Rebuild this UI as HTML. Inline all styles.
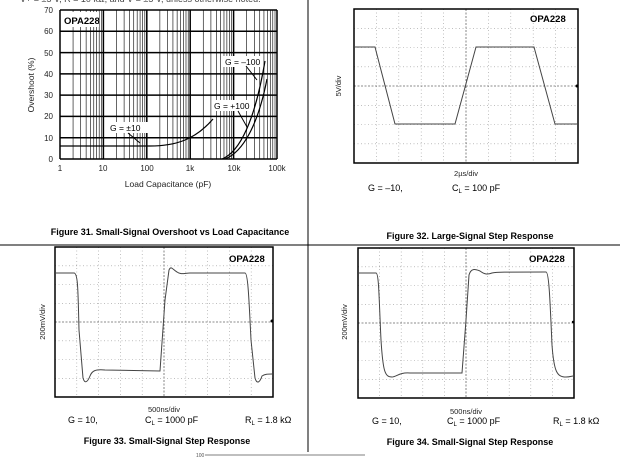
<!DOCTYPE html>
<html><head><meta charset="utf-8"><style>
body{margin:0;background:#fff;width:620px;height:458px;overflow:hidden}
svg{display:block;font-family:"Liberation Sans",Arial,sans-serif}
</style></head><body>
<svg width="620" height="458" viewBox="0 0 620 458" xmlns="http://www.w3.org/2000/svg">
<text x="20" y="2" font-size="9" fill="#444">V+ = ±5 V, R  = 10 kΩ, and V  = ±5 V, unless otherwise noted.</text>
<line x1="308" y1="0" x2="308" y2="452" stroke="#000" stroke-width="1"/>
<line x1="0" y1="245" x2="620" y2="245" stroke="#000" stroke-width="1"/>
<line x1="205" y1="455" x2="365" y2="455" stroke="#555" stroke-width="0.8"/>
<text x="196" y="457" font-size="5" fill="#555">100</text>

<g id="f31">
<rect x="60" y="10" width="217" height="149" fill="#fff"/>
<g stroke="#000" stroke-width="0.6" id="minor"></g>
<g stroke="#000" stroke-width="1.5">
<line x1="60" y1="10" x2="277" y2="10"/><line x1="60" y1="31.3" x2="277" y2="31.3"/>
<line x1="60" y1="52.6" x2="277" y2="52.6"/><line x1="60" y1="73.9" x2="277" y2="73.9"/>
<line x1="60" y1="95.1" x2="277" y2="95.1"/><line x1="60" y1="116.4" x2="277" y2="116.4"/>
<line x1="60" y1="137.7" x2="277" y2="137.7"/><line x1="60" y1="159" x2="277" y2="159"/>
<line x1="60" y1="10" x2="60" y2="159"/><line x1="103.4" y1="10" x2="103.4" y2="159"/>
<line x1="146.8" y1="10" x2="146.8" y2="159"/><line x1="190.2" y1="10" x2="190.2" y2="159"/>
<line x1="233.6" y1="10" x2="233.6" y2="159"/><line x1="277" y1="10" x2="277" y2="159"/>
</g>
<rect x="62" y="12" width="37" height="15" fill="#fff"/>
<text x="64" y="24" font-size="9.5" font-weight="bold">OPA228</text>
<path d="M60 146 L150 146 C175 146 195 140 213 119" fill="none" stroke="#000" stroke-width="1.2"/>
<path d="M222 159 C240 152 255 120 265 61" fill="none" stroke="#000" stroke-width="1.2"/>
<path d="M225 159 C243 152 258 125 267 79" fill="none" stroke="#000" stroke-width="1.2"/>
<rect x="108" y="122" width="40" height="11" fill="#fff"/>
<text x="110" y="131" font-size="8.5">G = ±10</text>
<line x1="128" y1="133" x2="140" y2="143" stroke="#000"/>
<rect x="223" y="56" width="40" height="11" fill="#fff"/>
<text x="225" y="65" font-size="8.5">G = –100</text>
<line x1="246" y1="66" x2="257" y2="80" stroke="#000"/>
<rect x="212" y="100" width="40" height="11" fill="#fff"/>
<text x="214" y="109" font-size="8.5">G = +100</text>
<line x1="238" y1="111" x2="247" y2="127" stroke="#000"/>
<g font-size="8" text-anchor="end" fill="#222">
<text x="53" y="13">70</text><text x="53" y="34">60</text><text x="53" y="56">50</text>
<text x="53" y="77">40</text><text x="53" y="98">30</text><text x="53" y="119">20</text>
<text x="53" y="141">10</text><text x="53" y="162">0</text>
</g>
<g font-size="8" text-anchor="middle" fill="#222">
<text x="60" y="171">1</text><text x="103" y="171">10</text><text x="147" y="171">100</text>
<text x="190" y="171">1k</text><text x="234" y="171">10k</text><text x="277" y="171">100k</text>
</g>
<text x="168" y="187" font-size="8.5" text-anchor="middle" fill="#222">Load Capacitance (pF)</text>
<text transform="translate(34,85) rotate(-90)" font-size="8.5" text-anchor="middle" fill="#222">Overshoot (%)</text>
<text x="170" y="235" font-size="9" font-weight="bold" text-anchor="middle">Figure 31. Small-Signal Overshoot vs Load Capacitance</text>
</g>

<g>
<g stroke="#999" stroke-width="0.6" stroke-dasharray="1,2.5">
<line x1="376.4" y1="9" x2="376.4" y2="163"/><line x1="398.8" y1="9" x2="398.8" y2="163"/><line x1="421.2" y1="9" x2="421.2" y2="163"/><line x1="443.6" y1="9" x2="443.6" y2="163"/><line x1="488.4" y1="9" x2="488.4" y2="163"/><line x1="510.8" y1="9" x2="510.8" y2="163"/><line x1="533.2" y1="9" x2="533.2" y2="163"/><line x1="555.6" y1="9" x2="555.6" y2="163"/>
<line x1="354" y1="28.3" x2="578" y2="28.3"/><line x1="354" y1="47.5" x2="578" y2="47.5"/><line x1="354" y1="66.8" x2="578" y2="66.8"/><line x1="354" y1="105.3" x2="578" y2="105.3"/><line x1="354" y1="124.5" x2="578" y2="124.5"/><line x1="354" y1="143.8" x2="578" y2="143.8"/>
</g>
<g stroke="#666" stroke-width="0.8" stroke-dasharray="2,1.5"><line x1="466" y1="9" x2="466" y2="163"/><line x1="354" y1="86" x2="578" y2="86"/></g>
<rect x="354" y="9" width="224" height="154" fill="none" stroke="#000" stroke-width="1.5"/>
<circle cx="577" cy="86" r="1.5"/>
<polyline points="354,47 375,47 395,124 455,124 476,47 534,47 555,124 577,124" fill="none" stroke="#444" stroke-width="1"/>
<text x="530" y="22" font-size="9.5" font-weight="bold">OPA228</text>
<text transform="translate(341,86) rotate(-90)" font-size="7.5" text-anchor="middle" fill="#222">5V/div</text>
<text x="466" y="176" font-size="7.5" text-anchor="middle" fill="#222">2µs/div</text>
<text x="368" y="191" font-size="9">G = –10,</text>
<text x="452" y="191" font-size="9">C<tspan font-size="6" dy="2">L</tspan><tspan dy="-2"> = 100 pF</tspan></text>
<text x="470" y="239" font-size="9" font-weight="bold" text-anchor="middle">Figure 32. Large-Signal Step Response</text>
</g>

<g>
<g stroke="#999" stroke-width="0.6" stroke-dasharray="1,2.5">
<line x1="76.8" y1="247" x2="76.8" y2="397"/><line x1="98.6" y1="247" x2="98.6" y2="397"/><line x1="120.4" y1="247" x2="120.4" y2="397"/><line x1="142.2" y1="247" x2="142.2" y2="397"/><line x1="185.8" y1="247" x2="185.8" y2="397"/><line x1="207.6" y1="247" x2="207.6" y2="397"/><line x1="229.4" y1="247" x2="229.4" y2="397"/><line x1="251.2" y1="247" x2="251.2" y2="397"/>
<line x1="55" y1="265.8" x2="273" y2="265.8"/><line x1="55" y1="284.5" x2="273" y2="284.5"/><line x1="55" y1="303.3" x2="273" y2="303.3"/><line x1="55" y1="340.8" x2="273" y2="340.8"/><line x1="55" y1="359.5" x2="273" y2="359.5"/><line x1="55" y1="378.3" x2="273" y2="378.3"/>
</g>
<g stroke="#666" stroke-width="0.8" stroke-dasharray="2,1.5"><line x1="164" y1="247" x2="164" y2="397"/><line x1="55" y1="322" x2="273" y2="322"/></g>
<rect x="55" y="247" width="218" height="150" fill="none" stroke="#000" stroke-width="1.5"/>
<circle cx="272" cy="321" r="1.5"/>
<path d="M56 273 L74 273 C78 273 78 290 79 330 L83 378 C85 385 88 381 90 376 C92 371 95 369 105 370 L160 371 L165 300 L169 270 C171 265 173 270 177 272 C181 275 185 273 190 273 L245 273 C248 273 249 300 251 340 L255 378 C257 385 260 382 262 376 C265 374 268 374 272 374" fill="none" stroke="#444" stroke-width="1"/>
<text x="229" y="262" font-size="9.5" font-weight="bold">OPA228</text>
<text transform="translate(45,322) rotate(-90)" font-size="7.5" text-anchor="middle" fill="#222">200mV/div</text>
<text x="164" y="412" font-size="7.5" text-anchor="middle" fill="#222">500ns/div</text>
<text x="68" y="423" font-size="9">G = 10,</text>
<text x="145" y="423" font-size="9">C<tspan font-size="6" dy="2">L</tspan><tspan dy="-2"> = 1000 pF</tspan></text>
<text x="245" y="423" font-size="9">R<tspan font-size="6" dy="2">L</tspan><tspan dy="-2"> = 1.8 kΩ</tspan></text>
<text x="167" y="444" font-size="9" font-weight="bold" text-anchor="middle">Figure 33. Small-Signal Step Response</text>
</g>

<g>
<g stroke="#999" stroke-width="0.6" stroke-dasharray="1,2.5">
<line x1="379.6" y1="248" x2="379.6" y2="398"/><line x1="401.2" y1="248" x2="401.2" y2="398"/><line x1="422.8" y1="248" x2="422.8" y2="398"/><line x1="444.4" y1="248" x2="444.4" y2="398"/><line x1="487.6" y1="248" x2="487.6" y2="398"/><line x1="509.2" y1="248" x2="509.2" y2="398"/><line x1="530.8" y1="248" x2="530.8" y2="398"/><line x1="552.4" y1="248" x2="552.4" y2="398"/>
<line x1="358" y1="266.8" x2="574" y2="266.8"/><line x1="358" y1="285.5" x2="574" y2="285.5"/><line x1="358" y1="304.3" x2="574" y2="304.3"/><line x1="358" y1="341.8" x2="574" y2="341.8"/><line x1="358" y1="360.5" x2="574" y2="360.5"/><line x1="358" y1="379.3" x2="574" y2="379.3"/>
</g>
<g stroke="#666" stroke-width="0.8" stroke-dasharray="2,1.5"><line x1="466" y1="248" x2="466" y2="398"/><line x1="358" y1="323" x2="574" y2="323"/></g>
<rect x="358" y="248" width="216" height="150" fill="none" stroke="#000" stroke-width="1.5"/>
<circle cx="573" cy="322" r="1.2"/>
<path d="M359 273 L376 273 C379 273 379 300 381 340 C383 372 385 377 392 377 C396 377 400 372 410 373 L462 373 L466 320 L469 275 C471 268 475 269 480 271 C484 274 487 275 492 273 C497 272 502 272 546 272 C549 272 550 300 552 345 C554 372 557 377 566 377 C570 377 572 376 573 376" fill="none" stroke="#444" stroke-width="1"/>
<text x="529" y="262" font-size="9.5" font-weight="bold">OPA228</text>
<text transform="translate(347,322) rotate(-90)" font-size="7.5" text-anchor="middle" fill="#222">200mV/div</text>
<text x="466" y="414" font-size="7.5" text-anchor="middle" fill="#222">500ns/div</text>
<text x="372" y="424" font-size="9">G = 10,</text>
<text x="447" y="424" font-size="9">C<tspan font-size="6" dy="2">L</tspan><tspan dy="-2"> = 1000 pF</tspan></text>
<text x="553" y="424" font-size="9">R<tspan font-size="6" dy="2">L</tspan><tspan dy="-2"> = 1.8 kΩ</tspan></text>
<text x="470" y="445" font-size="9" font-weight="bold" text-anchor="middle">Figure 34. Small-Signal Step Response</text>
</g>
</svg>
<script>
var g=document.getElementById('minor');
for(var d=0;d<5;d++)for(var k=2;k<10;k++){var x=60+43.4*(d+Math.log10(k));var l=document.createElementNS('http://www.w3.org/2000/svg','line');l.setAttribute('x1',x);l.setAttribute('x2',x);l.setAttribute('y1',10);l.setAttribute('y2',159);g.appendChild(l);}
</script>
</body></html>
